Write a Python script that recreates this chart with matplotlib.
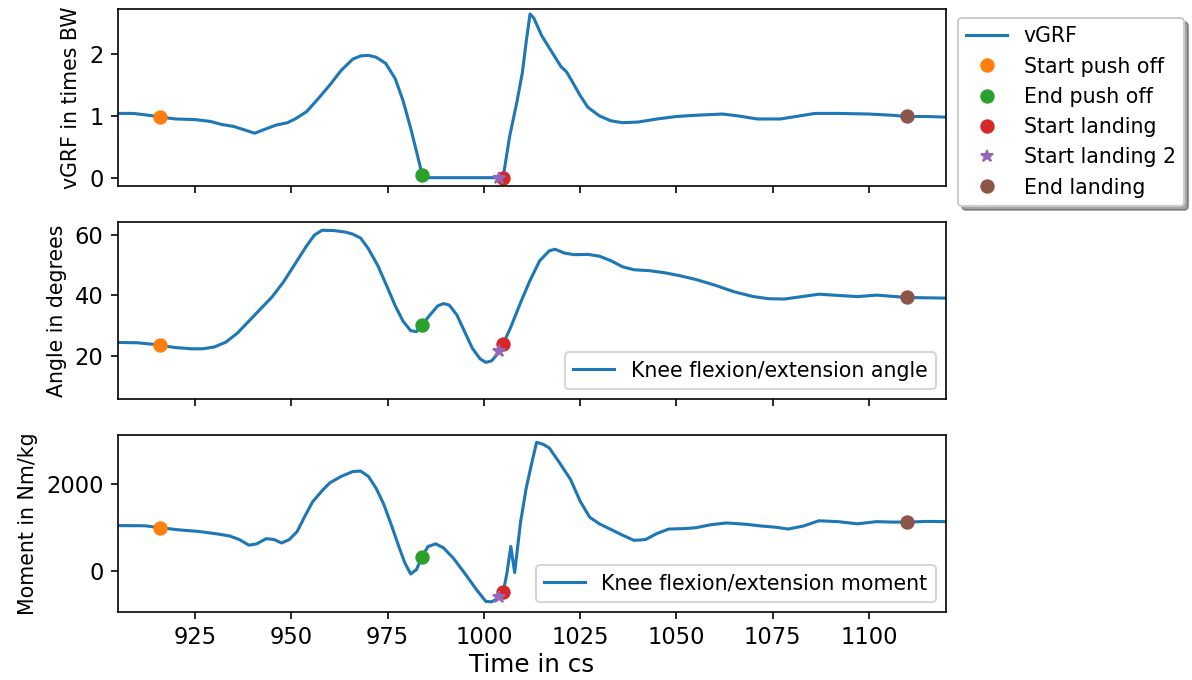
import numpy as np
import matplotlib
matplotlib.use("Agg")
import matplotlib.pyplot as plt

# time axis (cs) and signals
t_grf = [905, 909, 913, 916, 920, 925, 929, 932, 935, 938, 940.5, 943, 946, 949, 951,
         954, 957, 960, 963, 966, 968, 970, 972, 974.5, 977, 979, 981, 983, 984, 985,
         1004.5, 1005, 1006.7, 1008.5, 1010, 1011, 1012, 1013, 1015, 1017.5, 1020,
         1021.5, 1023, 1025, 1027, 1030, 1033, 1036, 1040, 1045, 1050, 1055, 1062,
         1066, 1071, 1077, 1081, 1086, 1092, 1100, 1106, 1110, 1115, 1120]
vgrf = [1.04, 1.04, 1.01, 0.98, 0.95, 0.94, 0.91, 0.86, 0.83, 0.77, 0.72, 0.78, 0.85,
        0.89, 0.95, 1.07, 1.28, 1.5, 1.74, 1.92, 1.97, 1.98, 1.95, 1.85, 1.6, 1.25,
        0.8, 0.3, 0.04, 0.0, 0.0, 0.0, 0.67, 1.2, 1.7, 2.2, 2.65, 2.58, 2.3, 2.05, 1.8,
        1.71, 1.55, 1.33, 1.14, 1.0, 0.92, 0.89, 0.9, 0.95, 0.99, 1.01, 1.03, 1.0,
        0.95, 0.95, 0.99, 1.04, 1.04, 1.03, 1.01, 0.99, 0.99, 0.98]

t_ang = [905, 910, 914, 916, 920, 924, 927, 930, 933, 936, 939, 942, 945, 948, 951,
         954, 956, 958, 961, 964, 966, 968, 970, 972.5, 975, 977, 979, 981, 982.5,
         984, 986, 988, 989.5, 991, 993, 995, 997, 999, 1000.5, 1002, 1003.5, 1005,
         1007, 1009.5, 1012, 1014.5, 1017, 1018.5, 1021, 1023.5, 1027, 1030, 1033,
         1036, 1039, 1043, 1047, 1051, 1055, 1060, 1065, 1070, 1074, 1078, 1082,
         1087, 1092, 1097, 1102, 1106, 1110, 1115, 1120]
angle = [24.4, 24.3, 23.8, 23.4, 22.7, 22.3, 22.3, 22.9, 24.5, 27.5, 31.5, 35.5, 39.5,
         44.5, 50.5, 56.5, 60.0, 61.6, 61.5, 61.0, 60.3, 59.0, 55.5, 49.8, 42.5, 36.5,
         31.5, 28.3, 28.0, 30.3, 33.5, 36.5, 37.3, 36.8, 33.5, 28.0, 22.5, 19.0, 17.8,
         18.3, 20.5, 23.9, 29.5, 37.5, 45.0, 51.5, 54.8, 55.3, 54.0, 53.5, 53.6, 53.0,
         51.5, 49.5, 48.5, 48.2, 47.5, 46.5, 45.3, 43.4, 41.2, 39.6, 38.9, 38.8, 39.5,
         40.4, 40.0, 39.6, 40.1, 39.7, 39.3, 39.2, 39.1]

t_mom = [905, 912, 916, 921, 926, 931, 934, 936.5, 939, 941, 943.5, 945.5, 947.5,
         949.5, 951.5, 953.5, 955.5, 958, 960, 963, 966, 968, 970, 972, 974, 976, 978,
         979.5, 981, 982.5, 984, 985.5, 987.5, 989.5, 992, 995, 998, 1000.5, 1002,
         1003.5, 1005, 1006, 1007, 1008, 1009.5, 1011, 1012.5, 1013.7, 1015.5, 1017,
         1019.5, 1022.5, 1025, 1027.5, 1030, 1033, 1036, 1039, 1042, 1045, 1048, 1052,
         1055, 1059, 1063, 1068, 1072, 1076, 1079, 1083, 1087, 1092, 1097, 1102, 1106,
         1110, 1115, 1120]
moment = [1040, 1035, 990, 940, 905, 845, 800, 720, 590, 620, 740, 720, 640, 720, 900,
          1250, 1580, 1840, 2020, 2170, 2280, 2290, 2170, 1900, 1530, 1050, 540, 180,
          -70, 30, 330, 560, 620, 530, 300, -50, -420, -700, -710, -640, -500, -50, 560,
          -40, 1100, 1900, 2500, 2950, 2900, 2820, 2500, 2100, 1600, 1230, 1080, 950,
          820, 700, 720, 860, 960, 970, 990, 1060, 1100, 1070, 1030, 1000, 960, 1030,
          1150, 1130, 1080, 1130, 1120, 1120, 1135, 1130]

# events: label, marker, time, value in each panel
ev_labels = ["Start push off", "End push off", "Start landing", "Start landing 2", "End landing"]
ev_marks = ["o", "o", "o", "*", "o"]
ev_time = [916, 984, 1005, 1004, 1110]
ev_grf = [0.98, 0.04, 0.0, 0.0, 1.0]
ev_ang = [23.4, 30.3, 24.0, 21.5, 39.4]
ev_mom = [990, 330, -490, -600, 1120]

plt.rcParams["xtick.labelsize"] = 11
plt.rcParams["ytick.labelsize"] = 11

fig, (ax1, ax2, ax3) = plt.subplots(3, 1, sharex=True, figsize=(1192 / 148, 680 / 148), dpi=148)
fig.subplots_adjust(left=0.099, right=0.7936, top=0.9868, bottom=0.1, hspace=0.2)

ax1.plot(t_grf, vgrf, label="vGRF")
ax2.plot(t_ang, angle, label="Knee flexion/extension angle")
ax3.plot(t_mom, moment, label="Knee flexion/extension moment")
for i in range(len(ev_labels)):
    c = "C%d" % (i + 1)
    ax1.plot([ev_time[i]], [ev_grf[i]], ev_marks[i], color=c, label=ev_labels[i])
    ax2.plot([ev_time[i]], [ev_ang[i]], ev_marks[i], color=c)
    ax3.plot([ev_time[i]], [ev_mom[i]], ev_marks[i], color=c)

ax1.set_xlim(905, 1120)
ax1.set_ylim(-0.14, 2.73)
ax2.set_ylim(5.6, 64.4)
ax3.set_ylim(-943, 3126)
ax1.set_yticks([0, 1, 2])
ax2.set_yticks([20, 40, 60])
ax3.set_yticks([0, 2000])

ax1.set_ylabel("vGRF in times BW")
ax2.set_ylabel("Angle in degrees")
ax3.set_ylabel("Moment in Nm/kg")
ax3.set_xlabel("Time in cs", fontsize=12, labelpad=2)

ax1.legend(loc="upper left", bbox_to_anchor=(1.0145, 0.949), borderaxespad=0, shadow=True)
ax2.legend(loc="lower right")
ax3.legend(loc="lower right")

fig.savefig("out.png", dpi=148)
